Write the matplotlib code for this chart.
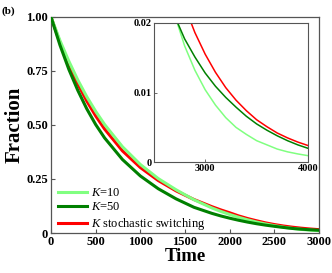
import matplotlib
matplotlib.use("Agg")
import matplotlib.pyplot as plt

plt.rcParams['font.family'] = ['Liberation Serif', 'DejaVu Serif']
plt.rcParams['mathtext.fontset'] = 'custom'
plt.rcParams['mathtext.rm'] = 'Liberation Serif'
plt.rcParams['mathtext.it'] = 'Liberation Serif:italic'

# values
time = [0, 100, 200, 300, 400, 500, 600, 800, 1000, 1200, 1400, 1600, 1800, 1900,
        2000, 2100, 2200, 2300, 2400, 2500, 2600, 2700, 2800, 2900, 3000, 3100,
        3200, 3300, 3400, 3500, 3600, 3700, 3800, 3900, 4000]
k10 = [1.0, 0.891, 0.795, 0.708, 0.631, 0.563, 0.502, 0.399, 0.317, 0.252, 0.200,
       0.154, 0.116, 0.100, 0.0857, 0.0727, 0.0611, 0.0507, 0.0418, 0.0339, 0.0270,
       0.0213, 0.0167, 0.0132, 0.0104, 0.0082, 0.0064, 0.0050, 0.0040, 0.0031,
       0.0025, 0.0019, 0.0015, 0.0012, 0.00095]
k50 = [1.0, 0.870, 0.757, 0.660, 0.575, 0.502, 0.440, 0.340, 0.264, 0.205, 0.158,
       0.119, 0.091, 0.079, 0.0685, 0.059, 0.0505, 0.043, 0.0365, 0.0310, 0.0258,
       0.0211, 0.0177, 0.0151, 0.0128, 0.0109, 0.0093, 0.0079, 0.0066, 0.0055,
       0.0046, 0.0038, 0.0031, 0.0025, 0.0020]
k_switch = [1.0, 0.882, 0.780, 0.690, 0.611, 0.542, 0.481, 0.380, 0.303, 0.243, 0.195,
            0.155, 0.122, 0.107, 0.0935, 0.0791, 0.0670, 0.0567, 0.0470, 0.0391,
            0.0325, 0.0270, 0.0224, 0.0186, 0.0155, 0.0129, 0.0107, 0.0089, 0.0074,
            0.0061, 0.0051, 0.0042, 0.0035, 0.0029, 0.0024]

labels = ['$K$=10', '$K$=50', '$K$ stochastic switching']
colors = ['#80ff80', '#008000', '#ff0000']
series = [k10, k50, k_switch]
zorders = [3, 4, 2]

fig = plt.figure(figsize=(3.32, 2.73), dpi=100)
ax = fig.add_axes([0.1536, 0.1465, 0.8074, 0.7915])

for y, lab, c, z in zip(series, labels, colors, zorders):
    ax.plot(time, y, color=c, lw=2.2, label=lab, zorder=z)

ax.set_xlim(0, 3000)
ax.set_ylim(0, 1.0)
ax.set_xticks([0, 500, 1000, 1500, 2000, 2500, 3000])
ax.set_yticks([0, 0.25, 0.5, 0.75, 1.0])
ax.set_yticklabels(['0', '0.25', '0.50', '0.75', '1.00'])
ax.tick_params(direction='in', length=3, width=0.8, color='#555555', pad=2)
for lbl in ax.get_xticklabels() + ax.get_yticklabels():
    lbl.set_fontweight('bold')
    lbl.set_fontsize(9)
for s in ax.spines.values():
    s.set_color('#555555')
    s.set_linewidth(0.9)

ax.set_xlabel('Time', fontsize=13.5, fontweight='bold', labelpad=0)
ax.set_ylabel('Fraction', fontsize=15, fontweight='bold', labelpad=1)

# legend order: K=10, K=50, switching
h, l = ax.get_legend_handles_labels()
ax.legend(h, l, loc='lower left', bbox_to_anchor=(0.0, -0.03), frameon=False,
          fontsize=9, handlelength=2.3, handletextpad=0.3, labelspacing=0.2,
          borderaxespad=0.2)

fig.text(0.005, 0.975, '(b)', fontsize=8, fontweight='bold', va='top', ha='left')

# inset
ins = fig.add_axes([0.463, 0.4055, 0.465, 0.511])
for y, c in zip(series, colors):
    ins.plot(time, y, color=c, lw=1.1)
ins.set_xlim(2500, 4000)
ins.set_ylim(0, 0.02)
ins.set_xticks([3000, 4000])
ins.set_yticks([0, 0.01, 0.02])
ins.set_yticklabels(['0', '0.01', '0.02'])
ins.tick_params(direction='in', length=2, width=0.6, color='#555555', pad=1.5)
for lbl in ins.get_xticklabels() + ins.get_yticklabels():
    lbl.set_fontweight('bold')
    lbl.set_fontsize(7.5)
for s in ins.spines.values():
    s.set_color('#555555')
    s.set_linewidth(0.8)

fig.savefig('out.png', dpi=100)
